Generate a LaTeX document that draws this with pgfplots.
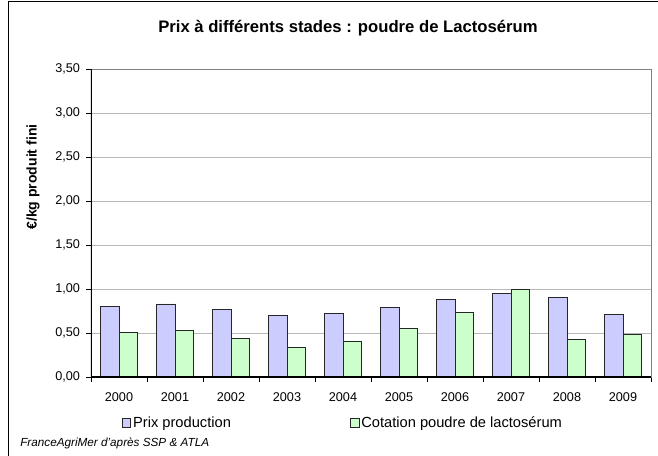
\documentclass[border=0pt]{standalone}
\usepackage{pgfplots}
\pgfplotsset{compat=1.18}
\usepackage{fontspec}
\setmainfont{Liberation Sans}
\definecolor{barblue}{HTML}{CCCCFF}
\definecolor{bargreen}{HTML}{CCFFCC}
\begin{document}
\begin{tikzpicture}
\useasboundingbox (0,0) rectangle (493.5pt,341.25pt);
\draw[line width=0.9pt] (6.2pt,-5pt) -- (6.2pt,340pt) -- (500pt,340pt);
\node[anchor=base west, inner sep=0pt, font=\fontsize{12.5}{14}\selectfont\bfseries] at (118.5pt,317.25pt) {Prix à différents stades : poudre de Lactosérum};
\node[rotate=90, anchor=center, inner sep=0pt, font=\fontsize{10.5}{12}\selectfont\bfseries] at (24.75pt,208.5pt) {€/kg produit fini};
\node[anchor=base west, inner sep=0pt, font=\fontsize{8.8}{10}\selectfont\itshape] at (15pt,6.25pt) {FranceAgriMer d'après SSP \& ATLA};
\begin{axis}[
  at={(68.25pt,58.5pt)}, anchor=south west,
  scale only axis, width=420pt, height=231pt,
  xmin=-0.5, xmax=9.5, ymin=0, ymax=3.5,
  ybar=0pt, bar width=0.3333,
  xtick={-0.5,0.5,1.5,2.5,3.5,4.5,5.5,6.5,7.5,8.5,9.5},
  xticklabels={},
  extra x ticks={0,1,2,3,4,5,6,7,8,9},
  extra x tick labels={2000,2001,2002,2003,2004,2005,2006,2007,2008,2009},
  extra x tick style={major tick length=0pt, grid=none},
  ytick={0,0.5,1,1.5,2,2.5,3,3.5},
  xtick pos=bottom, ytick pos=left,
  tick align=outside, major tick length=3.5pt,
  tick style={black, line width=0.6pt},
  ymajorgrids, major grid style={draw=black!28, line width=0.6pt},
  axis line style={draw=black!50, line width=0.6pt},
  ticklabel style={font=\fontsize{9.5}{11}\selectfont},
  xticklabel style={yshift=-8pt},
  yticklabel style={xshift=-1.2pt, /pgf/number format/.cd, fixed, fixed zerofill, precision=2, use comma, assume math mode=true},
  legend columns=2,
  legend style={draw=none, fill=none, at={(0.055,-0.149)}, anchor=west, inner sep=0pt,
    font=\fontsize{11}{13}\selectfont, nodes={inner sep=1.5pt},
    /tikz/every even column/.append style={column sep=88pt}},
  legend image code/.code={\draw[#1, draw=black!85, line width=0.6pt] (0pt,-3.1pt) rectangle (6.2pt,3.1pt);},
]
\addplot[fill=barblue, draw=black!85, line width=0.6pt] coordinates {(0,0.80) (1,0.83) (2,0.77) (3,0.70) (4,0.72) (5,0.79) (6,0.88) (7,0.95) (8,0.90) (9,0.71)};
\addplot[fill=bargreen, draw=black!85, line width=0.6pt] coordinates {(0,0.51) (1,0.53) (2,0.44) (3,0.34) (4,0.41) (5,0.55) (6,0.73) (7,1.00) (8,0.43) (9,0.48)};
\legend{Prix production, Cotation poudre de lactosérum}
\draw[black, line width=0.8pt] (rel axis cs:0,1) -- (rel axis cs:0,0) -- (rel axis cs:1,0);
\end{axis}
\end{tikzpicture}
\end{document}
